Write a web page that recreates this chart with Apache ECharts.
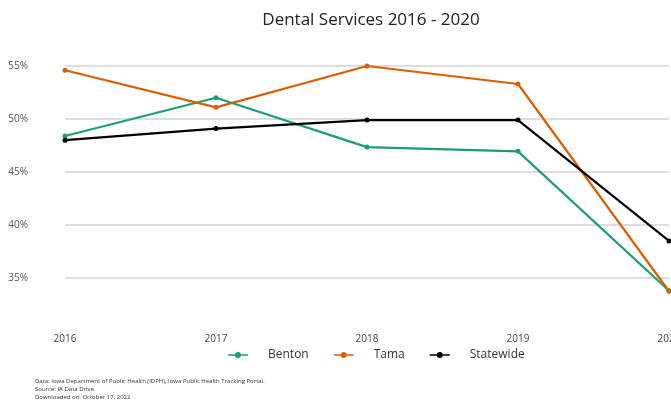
<!DOCTYPE html>
<html><head><meta charset="utf-8">
<script src="https://cdn.jsdelivr.net/npm/echarts@6/dist/echarts.min.js"></script>
<style>html,body{margin:0;padding:0;background:#fff}#c{width:671px;height:400px}</style>
</head><body><div id="c"></div>
<script>
const years = ['2016','2017','2018','2019','2020'];
const benton = [48.4, 52.0, 47.35, 46.95, 33.8];
const tama = [54.6, 51.1, 55.0, 53.3, 33.75];
const statewide = [48.0, 49.1, 49.9, 49.9, 38.5];
const notes = ['Data: Iowa Department of Public Health (IDPH), Iowa Public Health Tracking Portal.', 'Source: IA Data Drive.', 'Downloaded on: October 17, 2022'];
const font = 'Open Sans';
function mk(name, data, color){
  return {name, type:'line', data, clip:false, symbol:'circle', symbolSize:5,
    lineStyle:{width:2.2, color}, itemStyle:{color}};
}
const chart = echarts.init(document.getElementById('c'));
chart.setOption({
  animation:false,
  title:{text:'Dental Services 2016 - 2020', left:366, top:7, textAlign:'center',
    textStyle:{fontFamily:font, fontSize:17, fontWeight:'normal', color:'#222'}},
  grid:{left:65, right:2, top:66, bottom:122, containLabel:false, outerBoundsMode:'none'},
  xAxis:{type:'category', data:years, boundaryGap:false,
    axisLine:{show:false}, axisTick:{show:false}, splitLine:{show:false},
    axisLabel:{margin:56, fontFamily:font, fontSize:10, color:'#444', hideOverlap:false}},
  yAxis:{type:'value', min:35, max:55, interval:5,
    axisLine:{show:false}, axisTick:{show:false},
    splitLine:{lineStyle:{color:'#d3d3d3', width:1.5}},
    axisLabel:{formatter:'{value}%', margin:37, fontFamily:font, fontSize:10, color:'#555'}},
  legend:{left:223, top:344, itemWidth:20, itemHeight:6, itemGap:25,
    icon:'path://M0,2.2 L7.2,2.2 L7.2,3.8 L0,3.8 Z M12.8,2.2 L20,2.2 L20,3.8 L12.8,3.8 Z M7,3 A3,3 0 1,1 13,3 A3,3 0 1,1 7,3 Z',
    textStyle:{fontFamily:font, fontSize:12, color:'#333', padding:[0,0,0,15]}},
  series:[mk('Benton', benton, '#1b9e77'), mk('Tama', tama, '#d95f02'), mk('Statewide', statewide, '#000000')],
  graphic: notes.map((t,i)=>({type:'text', left:35, top:378+i*8,
    style:{text:t, fontFamily:font, fontSize:6, fill:'#333'}}))
});
</script></body></html>
